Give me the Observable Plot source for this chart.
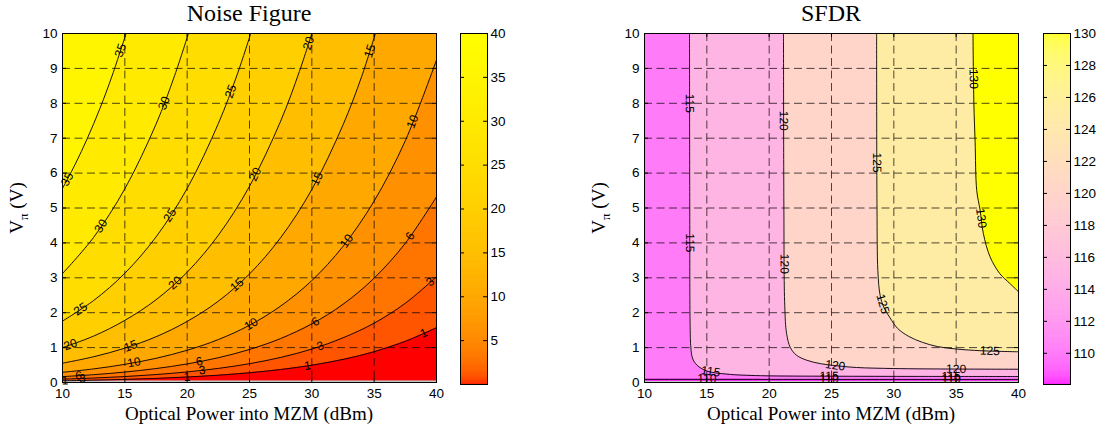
<!DOCTYPE html>
<html><head><meta charset="utf-8">
<script src="https://cdn.jsdelivr.net/npm/d3@7"></script>
<script src="https://cdn.jsdelivr.net/npm/@observablehq/plot@0.6"></script>
<style>
body{margin:0;background:#fff;}
#root{position:relative;width:1099px;height:432px;overflow:hidden;background:#fff;}
#root svg{position:absolute;top:0;}
.serif{position:absolute;font-family:"Liberation Serif","Times New Roman",serif;color:#000;white-space:nowrap;}
.title{font-size:24px;line-height:24px;transform:translateX(-50%);}
.xlab{font-size:19px;line-height:19px;transform:translateX(-50%);}
.ylab{font-size:19px;line-height:24px;width:120px;height:24px;text-align:center;transform:rotate(-90deg);}
.ylab .sub{font-size:13px;position:relative;top:5px;line-height:0;}
</style></head><body><div id="root"></div>
<script>
// ---------- shared axes ----------
const xDomain = [10, 40];
const yDomain = [0, 10];
const xTicks = [10, 15, 20, 25, 30, 35, 40];
const yTicks = [0, 1, 2, 3, 4, 5, 6, 7, 8, 9, 10];
const xGrid = [15, 20, 25, 30, 35];
const yGrid = [1, 2, 3, 4, 5, 6, 7, 8, 9];

// ---------- Noise Figure contours [P (dBm), Vpi (V)] ----------
const nfLevels = [1, 3, 6, 10, 15, 20, 25, 30, 35];
const nf1  = [[10,0.05],[12.5,0.066],[15,0.088],[17.5,0.118],[20,0.157],[22.5,0.209],[25,0.279],[27.5,0.372],[30,0.496],[32.5,0.662],[35,0.883],[37.5,1.18],[40,1.57]];
const nf3  = [[10,0.096],[12.5,0.128],[15,0.17],[17.5,0.227],[20,0.303],[22.5,0.404],[25,0.539],[27.5,0.718],[30,0.958],[32.5,1.28],[35,1.7],[37.5,2.27],[40,3.03]];
const nf6  = [[10,0.168],[12.5,0.224],[15,0.299],[17.5,0.399],[20,0.532],[22.5,0.71],[25,0.946],[27.5,1.26],[30,1.68],[32.5,2.24],[35,2.99],[37.5,3.99],[40,5.32]];
const nf10 = [[10,0.292],[12.5,0.39],[15,0.52],[17.5,0.693],[20,0.924],[22.5,1.23],[25,1.64],[27.5,2.19],[30,2.92],[32.5,3.9],[35,5.2],[37.5,6.93],[40,9.24]];
const nf15 = [[10,0.553],[12.5,0.738],[15,0.984],[17.5,1.31],[20,1.75],[22.5,2.33],[25,3.11],[27.5,4.15],[30,5.53],[32.5,7.38],[34,8.77],[35.1,10]];
const nf20 = [[10,1.0],[12.5,1.33],[15,1.78],[17.5,2.37],[20,3.16],[22.5,4.22],[25,5.62],[27.5,7.49],[29,8.91],[30,10]];
const nf25 = [[10,1.76],[12.5,2.35],[15,3.13],[17.5,4.17],[20,5.56],[22.5,7.42],[24,8.81],[25.1,10]];
const nf30 = [[10,3.12],[12.5,4.16],[15,5.55],[17.5,7.4],[19,8.8],[20.1,10]];
const nf35 = [[10,5.56],[11,6.24],[12,7.0],[13,7.85],[14,8.81],[15.1,10]];
const nfContours = [nf1, nf3, nf6, nf10, nf15, nf20, nf25, nf30, nf35];
// contour labels [level, P, Vpi]
const nfLabels = [
  [35,14.8,9.5],[35,10.5,5.8],
  [30,18.2,8.0],[30,13.2,4.46],
  [25,23.6,8.33],[25,18.8,4.75],[25,11.6,2.02],
  [20,29.9,9.7],[20,25.6,5.94],[20,19.2,2.79],[20,10.7,1.02],
  [15,34.9,9.47],[15,30.6,5.8],[15,24.0,2.79],[15,15.5,1.02],
  [10,38.1,7.47],[10,32.9,4.03],[10,25.1,1.69],[10,15.75,0.54],
  [6,37.8,4.22],[6,30.3,1.74],[6,21.0,0.54],[6,11.3,0.19],
  [3,39.5,2.88],[3,30.7,1.02],[3,21.2,0.36],[3,11.6,0.11],
  [1,39.0,1.4],[1,29.65,0.5],[1,20.0,0.16],[1,10.2,0.05]
];
const nfColorDomain = [0, 40];
const nfBarTicks = [5, 10, 15, 20, 25, 30, 35, 40];
const nfNanTop = 0.045;

// ---------- SFDR contours ----------
const sfLevels = [110, 115, 120, 125, 130];
const sf110 = [[10,0.09],[25,0.089],[40,0.088]];
const sf115 = [[13.61,10],[13.63,5],[13.66,1.6],[13.72,1.0],[13.85,0.7],[14.2,0.5],[15.0,0.33],[16.6,0.24],[19.3,0.195],[25,0.18],[32,0.175],[40,0.172]];
const sf120 = [[21.15,10],[21.18,5],[21.25,2.2],[21.4,1.4],[21.7,1.0],[22.2,0.78],[23.0,0.64],[24.1,0.54],[25.4,0.48],[27,0.43],[30,0.4],[35,0.385],[40,0.38]];
const sf125 = [[28.62,10],[28.65,5],[28.72,3.2],[28.9,2.5],[29.2,2.15],[29.7,1.85],[30.3,1.55],[31.2,1.32],[32.3,1.15],[33.5,1.03],[35,0.96],[37,0.91],[40,0.88]];
const sf130 = [[36.35,10],[36.42,8],[36.52,6.9],[36.65,5.5],[36.92,4.94],[37.18,4.27],[37.72,3.6],[38.5,3.12],[39.3,2.84],[40,2.6]];
const sfContours = [sf110, sf115, sf120, sf125, sf130];
const sfLabels = [
  [115,13.61,8.0],[115,13.63,4.0],
  [120,21.15,7.5],[120,21.2,3.4],
  [125,28.64,6.3],[125,29.1,2.25],[125,37.7,0.88],
  [130,36.4,8.7],[130,36.8,4.7],
  [115,15.3,0.3],[120,25.3,0.48],[120,35.0,0.385],
  [110,15.0,0.09],[115,24.8,0.17],[110,24.8,0.09],[115,34.6,0.17],[110,34.6,0.09]
];
const sfColorDomain = [108.05, 130];
const sfBarTicks = [110, 112, 114, 116, 118, 120, 122, 124, 126, 128, 130];
const sfNanTop = 0.035;

// ---------- colour maps (brightened autumn / spring) ----------
const nfColor = {type: "linear", domain: nfColorDomain, clamp: true,
  interpolate: t => `rgb(255,${Math.round(255 * Math.pow(t, 0.3))},0)`};
const sfColor = {type: "linear", domain: sfColorDomain, clamp: true,
  interpolate: t => `rgb(255,${Math.round(255 * Math.pow(t, 0.3))},${Math.round(255 * Math.pow(1 - t, 0.3))})`};

// ---------- layout ----------
const H = 432;
const PW = 450, ML = 62, MR = 14, MT = 33, MB = 50;
const frameW = PW - ML - MR, frameH = H - MT - MB;
const FONT = "'Liberation Sans', Arial, Helvetica, sans-serif";
const root = document.getElementById("root");

const sx = d3.scaleLinear().domain(xDomain).range([ML, PW - MR]);
const sy = d3.scaleLinear().domain(yDomain).range([H - MB, MT]);

function snap(pts, lx, ly) {
  const P = pts.map(([x, y]) => [sx(x), sy(y)]);
  const q = [sx(lx), sy(ly)];
  let best = null;
  for (let i = 0; i < P.length - 1; i++) {
    const [ax, ay] = P[i], [bx, by] = P[i + 1];
    const dx = bx - ax, dy = by - ay, L2 = dx * dx + dy * dy;
    let t = L2 ? ((q[0] - ax) * dx + (q[1] - ay) * dy) / L2 : 0;
    t = Math.max(0, Math.min(1, t));
    const px = ax + t * dx, py = ay + t * dy;
    const d = (px - q[0]) ** 2 + (py - q[1]) ** 2;
    if (!best || d < best.d) {
      let ang = Math.atan2(dy, dx) * 180 / Math.PI;
      if (ang > 90) ang -= 180;
      if (ang < -90) ang += 180;
      best = {d, x: sx.invert(px), y: sy.invert(py), angle: ang};
    }
  }
  return best;
}

function panel({contours, levels, labels, color, cmin, nanTop, left}) {
  const box = [{x1: xDomain[0], x2: xDomain[1], y1: yDomain[0], y2: yDomain[1], v: cmin}];
  const nan = [{x1: xDomain[0], x2: xDomain[1], y1: yDomain[0], y2: nanTop}];
  const marks = [Plot.rect(box, {x1: "x1", x2: "x2", y1: "y1", y2: "y2", fill: "v"})];
  contours.forEach((pts, i) => {
    const lev = levels[i];
    if (pts[0][0] === xDomain[0]) {
      marks.push(Plot.areaY(pts, {x: d => d[0], y1: d => d[1], y2: () => yDomain[1], fill: () => lev, curve: "catmull-rom", clip: true}));
    } else {
      marks.push(Plot.areaX(pts, {y: d => d[1], x1: d => d[0], x2: () => xDomain[1], fill: () => lev, curve: "catmull-rom", clip: true}));
    }
  });
  marks.push(Plot.rect(nan, {x1: "x1", x2: "x2", y1: "y1", y2: "y2", fill: "#c4c4c4"}));
  contours.forEach(pts => {
    marks.push(Plot.line(pts, {x: d => d[0], y: d => d[1], stroke: "#000", strokeWidth: 0.9, curve: "catmull-rom", clip: true}));
  });
  marks.push(Plot.ruleX(xGrid, {x: d => d, stroke: "#000", strokeOpacity: 0.7, strokeDasharray: "8,4.5"}));
  marks.push(Plot.ruleY(yGrid, {y: d => d, stroke: "#000", strokeOpacity: 0.7, strokeDasharray: "8,4.5"}));
  // inward ticks on all sides
  marks.push(Plot.ruleX(xTicks, {x: d => d, insetTop: frameH - 4, stroke: "#000"}));
  marks.push(Plot.ruleX(xTicks, {x: d => d, insetBottom: frameH - 4, stroke: "#000"}));
  marks.push(Plot.ruleY(yTicks, {y: d => d, insetRight: frameW - 4, stroke: "#000"}));
  marks.push(Plot.ruleY(yTicks, {y: d => d, insetLeft: frameW - 4, stroke: "#000"}));
  const rows = labels.map(([lev, lx, ly]) => {
    const s = snap(contours[levels.indexOf(lev)], lx, ly);
    return {t: String(lev), x: s.x, y: s.y, angle: s.angle};
  });
  marks.push(Plot.text(rows, {x: "x", y: "y", text: "t", rotate: "angle", fontSize: 12, fill: "#000"}));
  marks.push(Plot.axisX({ticks: xTicks, tickSize: 0, tickPadding: 6, label: null, fontSize: 13.5}));
  marks.push(Plot.axisY({ticks: yTicks, tickSize: 0, tickPadding: 5, label: null, fontSize: 13.5}));
  marks.push(Plot.frame({stroke: "#000", strokeWidth: 1}));
  const svg = Plot.plot({
    width: PW, height: H, marginLeft: ML, marginRight: MR, marginTop: MT, marginBottom: MB,
    style: {fontFamily: FONT, background: "transparent", color: "#000", overflow: "visible"},
    x: {domain: xDomain}, y: {domain: yDomain}, color, marks
  });
  svg.style.left = left + "px";
  root.appendChild(svg);
}

function colorbar({color, domain, ticks, left, width, marginRight}) {
  const n = 300, step = (domain[1] - domain[0]) / n;
  const cells = d3.range(n).map(i => domain[0] + i * step);
  const mL = 20, barW = width - mL - marginRight;
  const fH = H - 33 - 48;
  const svg = Plot.plot({
    width, height: H, marginLeft: mL, marginRight, marginTop: 33, marginBottom: 48,
    style: {fontFamily: FONT, background: "transparent", color: "#000", overflow: "visible"},
    x: {domain: [0, 1], axis: null}, y: {domain, axis: null}, color,
    marks: [
      Plot.rect(cells, {x1: () => 0, x2: () => 1, y1: d => d, y2: d => d + step * 1.6, fill: d => d + step / 2, clip: true}),
      Plot.ruleY(ticks, {y: d => d, insetRight: barW - 4, stroke: "#000"}),
      Plot.ruleY(ticks, {y: d => d, insetLeft: barW - 4, stroke: "#000"}),
      Plot.axisY({anchor: "right", ticks, tickSize: 0, tickPadding: 3, label: null, fontSize: 13.5}),
      Plot.frame({stroke: "#000", strokeWidth: 1})
    ]
  });
  svg.style.left = left + "px";
  root.appendChild(svg);
}

panel({contours: nfContours, levels: nfLevels, labels: nfLabels, color: nfColor, cmin: nfColorDomain[0], nanTop: nfNanTop, left: 0});
panel({contours: sfContours, levels: sfLevels, labels: sfLabels, color: sfColor, cmin: sfColorDomain[0], nanTop: sfNanTop, left: 582});
colorbar({color: nfColor, domain: nfColorDomain, ticks: nfBarTicks, left: 440, width: 80, marginRight: 33});
colorbar({color: sfColor, domain: sfColorDomain, ticks: sfBarTicks, left: 1023, width: 76, marginRight: 29});

// ---------- titles and axis labels ----------
function addText(cls, html, left, top) {
  const d = document.createElement("div");
  d.className = "serif " + cls;
  d.innerHTML = html;
  d.style.left = left + "px";
  d.style.top = top + "px";
  root.appendChild(d);
}
const c1 = ML + frameW / 2, c2 = 582 + ML + frameW / 2;
addText("title", "Noise Figure", c1, 1);
addText("title", "SFDR", c2, 1);
addText("xlab", "Optical Power into MZM (dBm)", c1, 404);
addText("xlab", "Optical Power into MZM (dBm)", c2, 404);
const ylabCy = MT + frameH / 2;
addText("ylab", "V<span class=\"sub\">π</span> (V)", 16.6 - 60, ylabCy - 12);
addText("ylab", "V<span class=\"sub\">π</span> (V)", 598.6 - 60, ylabCy - 12);
</script></body></html>
